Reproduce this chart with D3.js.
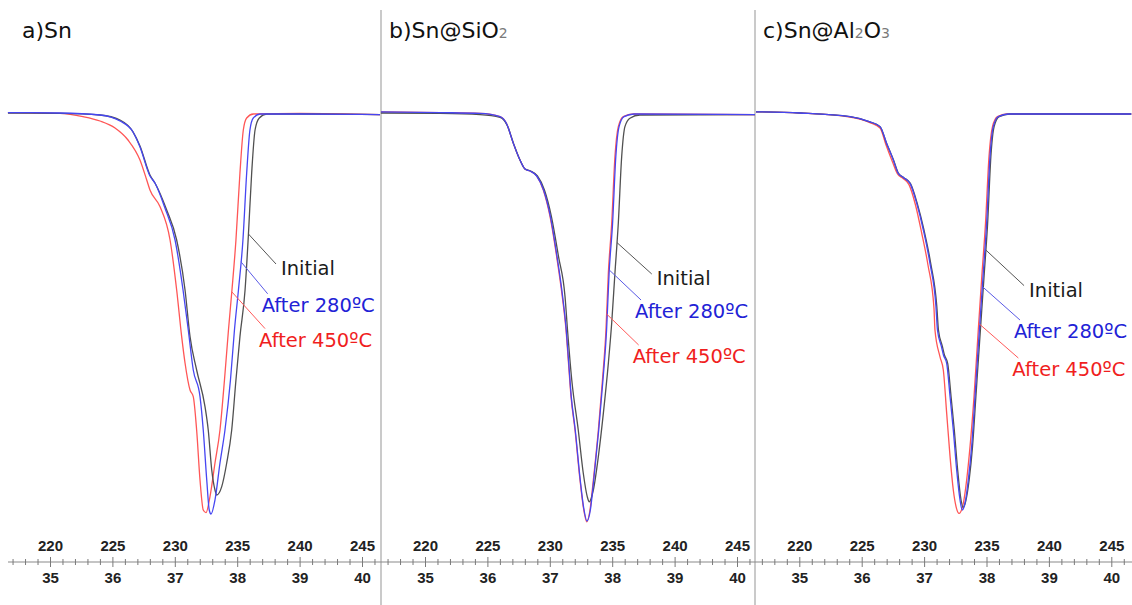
<!DOCTYPE html>
<html>
<head>
<meta charset="utf-8">
<script src="https://cdn.jsdelivr.net/npm/d3@7"></script>
<style>
  html, body { margin: 0; padding: 0; background: #fff; }
  svg { display: block; }
</style>
</head>
<body>
<svg id="chart" width="1132" height="605"></svg>
<script>
// Tick labels: upper row in °C, lower row on the secondary scale
const tempTicks = [220, 225, 230, 235, 240, 245];
const lowerTicks = [35, 36, 37, 38, 39, 40];

const seriesNames = ["Initial", "After 280ºC", "After 450ºC"];

// Each trace: [temperature °C, signal (a.u., 0 = baseline)]
// a) Sn
const snInitial = [[216.63,0],[220.80,-0.1],[224.01,-0.5],[225.61,-1.75],[226.65,-4.7],[227.21,-8.25],[228.01,-15.5],[228.41,-17.5],[229.35,-24.25],[230.15,-31.75],[230.82,-44.25],[231.22,-55.9],[231.75,-64.25],[232.42,-73.4],[232.68,-79.25],[232.96,-89.25],[233.22,-94.25],[233.36,-95.5],[233.76,-93.4],[234.16,-87.5],[234.56,-79.25],[234.90,-66.75],[235.22,-55.9],[235.63,-44.25],[235.89,-30.9],[236.16,-15],[236.43,-4.25],[236.77,-1.25],[237.36,-0.3],[240.03,-0.25],[246.44,-0.4]];
const sn280 = [[216.63,0.1],[220.80,0],[224.01,-0.5],[225.61,-2],[226.65,-4.75],[227.21,-8.5],[228.01,-15.75],[228.41,-17.5],[229.21,-23.75],[230.02,-31.75],[230.66,-44.25],[231.08,-54.25],[231.48,-64.25],[232.02,-70.9],[232.28,-79.25],[232.56,-91.75],[232.76,-99.25],[232.90,-100.25],[233.22,-96.75],[233.62,-87.5],[234.02,-79.25],[234.46,-66.75],[234.78,-54.25],[235.10,-44.25],[235.46,-31.75],[235.76,-15],[236.02,-4.25],[236.29,-1.25],[236.83,-0.25],[240.03,-0.25],[246.44,-0.4]];
const sn450 = [[216.63,0.1],[220.80,-0.1],[222.64,-0.9],[224.01,-2],[225.21,-3.75],[226.25,-6.75],[227.21,-11.75],[227.75,-16.75],[228.01,-19.25],[228.81,-23.4],[229.62,-31.75],[230.15,-44.25],[230.55,-55.9],[230.82,-62.5],[231.22,-69.25],[231.48,-70.9],[231.75,-79.25],[232.02,-91.75],[232.28,-99.25],[232.50,-99.9],[232.82,-95.9],[233.22,-87.5],[233.62,-79.25],[233.98,-66.75],[234.30,-54.25],[234.58,-44.25],[234.90,-31.75],[235.22,-15],[235.49,-4.25],[235.76,-1.25],[236.29,-0.25],[240.03,-0.1],[246.44,-0.4]];

// b) Sn@SiO2
const sio2Initial = [[216.47,0],[221.20,-0.1],[224.41,-0.4],[226.01,-1.1],[226.57,-3],[227.09,-7.6],[227.61,-11.75],[228.01,-14],[228.45,-14.5],[229.01,-15.75],[229.57,-19.25],[230.13,-25.9],[230.70,-35.9],[231.22,-45.9],[231.42,-54.25],[231.76,-66.75],[232.28,-79.25],[232.68,-90],[233.00,-95.9],[233.16,-97.2],[233.49,-94.25],[233.89,-85.9],[234.29,-75.1],[234.69,-62.6],[234.96,-52.5],[235.22,-40],[235.49,-27.5],[235.76,-10.9],[236.02,-3.4],[236.42,-1.3],[237.22,-0.5],[246.44,-0.4]];
const sio2_280 = [[216.47,0.3],[221.20,0.1],[224.41,-0.1],[226.01,-0.9],[226.55,-2.75],[227.08,-7.6],[227.61,-11.75],[228.01,-14],[228.41,-14.5],[228.95,-15.75],[229.50,-19.25],[230.05,-25.9],[230.58,-35.9],[231.03,-45.9],[231.32,-54.25],[231.52,-62.6],[231.72,-70.9],[232.04,-79.25],[232.44,-91.75],[232.70,-98.4],[232.98,-102],[233.25,-99.25],[233.52,-91.75],[233.92,-79.25],[234.26,-66.75],[234.55,-54.25],[234.75,-40.1],[235.03,-27.6],[235.29,-10.9],[235.55,-3.4],[235.95,-0.9],[236.75,-0.25],[246.44,-0.4]];
const sio2_450 = [[216.47,0.3],[221.20,0.1],[224.41,-0.1],[226.01,-0.9],[226.55,-2.75],[227.08,-7.6],[227.61,-11.75],[228.01,-14],[228.41,-14.5],[228.95,-15.75],[229.48,-19.25],[230.02,-25.9],[230.55,-35.9],[231.00,-45.9],[231.30,-54.25],[231.50,-62.6],[231.70,-70.9],[232.02,-79.25],[232.42,-91.75],[232.68,-98.4],[232.96,-102.2],[233.22,-99.25],[233.49,-91.75],[233.89,-79.25],[234.22,-66.75],[234.50,-54.25],[234.69,-40.1],[234.96,-27.6],[235.22,-10.9],[235.49,-3.4],[235.89,-0.9],[236.69,-0.25],[246.44,-0.4]];

// c) Sn@Al2O3
const al2o3Initial = [[216.53,0.3],[220.06,0],[224.06,-0.9],[225.66,-2.2],[226.47,-3.4],[227.00,-7.6],[227.55,-11.75],[227.95,-15.1],[228.35,-16.1],[228.90,-17.6],[229.45,-22.6],[229.99,-29.25],[230.53,-37.6],[231.02,-48.4],[231.15,-54.25],[231.47,-58.4],[231.63,-60.5],[231.89,-62.6],[232.16,-70.9],[232.42,-79.25],[232.69,-89.25],[232.96,-96.75],[233.12,-98.6],[233.34,-97],[233.61,-91.75],[233.88,-83.4],[234.15,-70.9],[234.42,-58.4],[234.82,-40.1],[235.09,-27.6],[235.35,-10.9],[235.61,-3.4],[236.02,-0.9],[236.85,-0.25],[246.6,-0.25]];
const al2o3_280 = [[216.53,0.3],[220.06,0],[224.06,-0.9],[225.66,-2.2],[226.47,-3.4],[227.00,-7.6],[227.53,-11.75],[227.93,-15.1],[228.33,-16.1],[228.87,-17.6],[229.41,-22.6],[229.94,-29.25],[230.47,-37.6],[230.95,-48.4],[231.07,-54.25],[231.39,-58.4],[231.55,-60.5],[231.81,-62.6],[232.08,-70.9],[232.34,-79.25],[232.61,-89.25],[232.88,-96.75],[233.06,-99.25],[233.28,-97.5],[233.54,-91.75],[233.81,-83.4],[234.08,-70.9],[234.34,-58.4],[234.74,-40.1],[235.01,-27.6],[235.28,-10.9],[235.54,-3.4],[235.95,-0.9],[236.75,-0.25],[246.6,-0.25]];
const al2o3_450 = [[216.53,0.3],[220.06,0],[224.06,-1],[225.66,-2.4],[226.47,-3.75],[226.95,-8],[227.47,-12.25],[227.87,-15.25],[228.27,-16.25],[228.79,-17.9],[229.31,-23],[229.79,-29.75],[230.31,-38],[230.79,-48.75],[230.87,-54.25],[231.27,-60.9],[231.54,-64.25],[231.81,-75.1],[232.08,-85.9],[232.34,-94.25],[232.56,-98.4],[232.80,-100.1],[233.14,-97.6],[233.41,-91.75],[233.68,-83.4],[234.00,-70.9],[234.34,-54.25],[234.64,-40.1],[234.92,-27.6],[235.20,-10.9],[235.48,-3.4],[235.88,-0.9],[236.64,-0.25],[246.6,-0.25]];

// Panel titles (pieces flagged "sub" are drawn as small grey subscripts)
const titleA = [{ t: "a)Sn" }];
const titleB = [{ t: "b)Sn@SiO" }, { t: "2", sub: true }];
const titleC = [{ t: "c)Sn@Al" }, { t: "2", sub: true }, { t: "O" }, { t: "3", sub: true }];

// Callouts: signal level where the leader meets the right flank, label position [°C, signal]
const calloutsA = [{ at: -30.25, T: 238.51, v: -40.5 }, { at: -37.2, T: 236.96, v: -49.7 }, { at: -44.7, T: 236.75, v: -58.4 }];
const calloutsB = [{ at: -32.4, T: 238.57, v: -43 }, { at: -39.25, T: 236.83, v: -51.25 }, { at: -50.25, T: 236.64, v: -62.5 }];
const calloutsC = [{ at: -34.25, T: 238.41, v: -45.9 }, { at: -43.4, T: 237.2, v: -56.25 }, { at: -52.6, T: 237.07, v: -65.75 }];

// ---- layout & styling ----
const W = 1132, H = 605;
const lineColors = ["#505050", "#4646f2", "#ff5656"];
const textColors = ["#1b1b1b", "#2222d6", "#f01e1e"];
const leaderColors = ["#555555", "#5a5ae6", "#ff5a5a"];
const drawOrder = [2, 0, 1]; // red underneath, blue on top
const axisY = 562;

const panels = [
  { left: 0,   right: 381,  axisStart: 8,   x220: 50,    title: titleA, traces: [snInitial, sn280, sn450],          callouts: calloutsA },
  { left: 381, right: 755,  axisStart: 381, x220: 425,   title: titleB, traces: [sio2Initial, sio2_280, sio2_450], callouts: calloutsB },
  { left: 755, right: 1132, axisStart: 755, x220: 799.3, title: titleC, traces: [al2o3Initial, al2o3_280, al2o3_450], callouts: calloutsC }
];

const svg = d3.select("#chart");
const y = d3.scaleLinear().domain([0, -100]).range([113, 513]);

// T on the rising (right) flank where the trace reaches a given signal
function flankT(trace, s) {
  let iMin = d3.minIndex(trace, d => d[1]);
  for (let i = iMin; i < trace.length - 1; i++) {
    const a = trace[i], b = trace[i + 1];
    if ((a[1] - s) * (b[1] - s) <= 0) {
      const f = (s - a[1]) / (b[1] - a[1]);
      return a[0] + f * (b[0] - a[0]);
    }
  }
  return trace[trace.length - 1][0];
}

// panel separators
[381, 755].forEach(xv => {
  svg.append("line")
    .attr("x1", xv).attr("x2", xv).attr("y1", 10).attr("y2", H)
    .attr("stroke", "#b4b4b4").attr("stroke-width", 1.4);
});

panels.forEach(p => {
  const g = svg.append("g");
  const x = d3.scaleLinear().domain([220, 245]).range([p.x220, p.x220 + 312]);
  const xLow = d3.scaleLinear().domain([35, 40]).range([p.x220, p.x220 + 312]);

  // title
  const title = g.append("text")
    .attr("x", p.left + (p.left === 0 ? 22 : 8)).attr("y", 38)
    .attr("font-family", "'DejaVu Sans', Verdana, sans-serif")
    .attr("font-size", 22).attr("fill", "#111");
  p.title.forEach(piece => {
    const ts = title.append("tspan").text(piece.t);
    if (piece.sub) ts.attr("font-size", 14).attr("fill", "#7a7a7a");
  });

  // traces
  const line = d3.line().x(d => x(d[0])).y(d => y(d[1])).curve(d3.curveMonotoneX);
  drawOrder.forEach(k => {
    g.append("path")
      .datum(p.traces[k])
      .attr("d", line)
      .attr("fill", "none")
      .attr("stroke", lineColors[k])
      .attr("stroke-width", 1.3)
      .attr("stroke-linejoin", "round");
  });

  // callouts
  p.callouts.forEach((c, k) => {
    const ax = x(flankT(p.traces[k], c.at)), ay = y(c.at);
    const lx = x(c.T), ly = y(c.v);
    const off = k === 0 ? [-5, -11] : [6, -18];
    g.append("line")
      .attr("x1", ax).attr("y1", ay)
      .attr("x2", lx + off[0]).attr("y2", ly + off[1])
      .attr("stroke", leaderColors[k]).attr("stroke-width", 1);
    g.append("text")
      .attr("x", lx).attr("y", ly)
      .attr("font-family", "'DejaVu Sans', Verdana, sans-serif")
      .attr("font-size", 19.5)
      .attr("fill", textColors[k])
      .text(seriesNames[k]);
  });

  // axis baseline
  g.append("line")
    .attr("x1", p.axisStart).attr("x2", p.right)
    .attr("y1", axisY).attr("y2", axisY)
    .attr("stroke", "#8a8a8a").attr("stroke-width", 1.2);

  const minor = d3.range(Math.ceil(x.invert(p.axisStart + 4)), Math.floor(x.invert(p.right - 3)) + 1);
  const minorTicks = minor.filter(v => v % 5 !== 0);

  const axG = g.append("g").attr("transform", `translate(0,${axisY})`);
  // minor ticks crossing the baseline
  axG.append("g").call(d3.axisTop(x).tickValues(minorTicks).tickSize(3).tickFormat(""));
  axG.append("g").call(d3.axisBottom(x).tickValues(minorTicks).tickSize(3).tickFormat(""));
  // major ticks with labels above (°C) and below
  axG.append("g").attr("class", "top")
    .call(d3.axisTop(x).tickValues(tempTicks).tickSize(5).tickPadding(6).tickFormat(d3.format("d")));
  axG.append("g").attr("class", "bottom")
    .call(d3.axisBottom(xLow).tickValues(lowerTicks).tickSize(5).tickPadding(5).tickFormat(d3.format("d")));

  axG.selectAll(".domain").remove();
  axG.selectAll(".tick line").attr("stroke", "#7a7a7a").attr("stroke-width", 1);
  axG.selectAll(".tick text")
    .attr("font-family", "'Liberation Sans', Arial, sans-serif")
    .attr("font-weight", "bold")
    .attr("font-size", 15)
    .attr("fill", "#222");
});
</script>
</body>
</html>
